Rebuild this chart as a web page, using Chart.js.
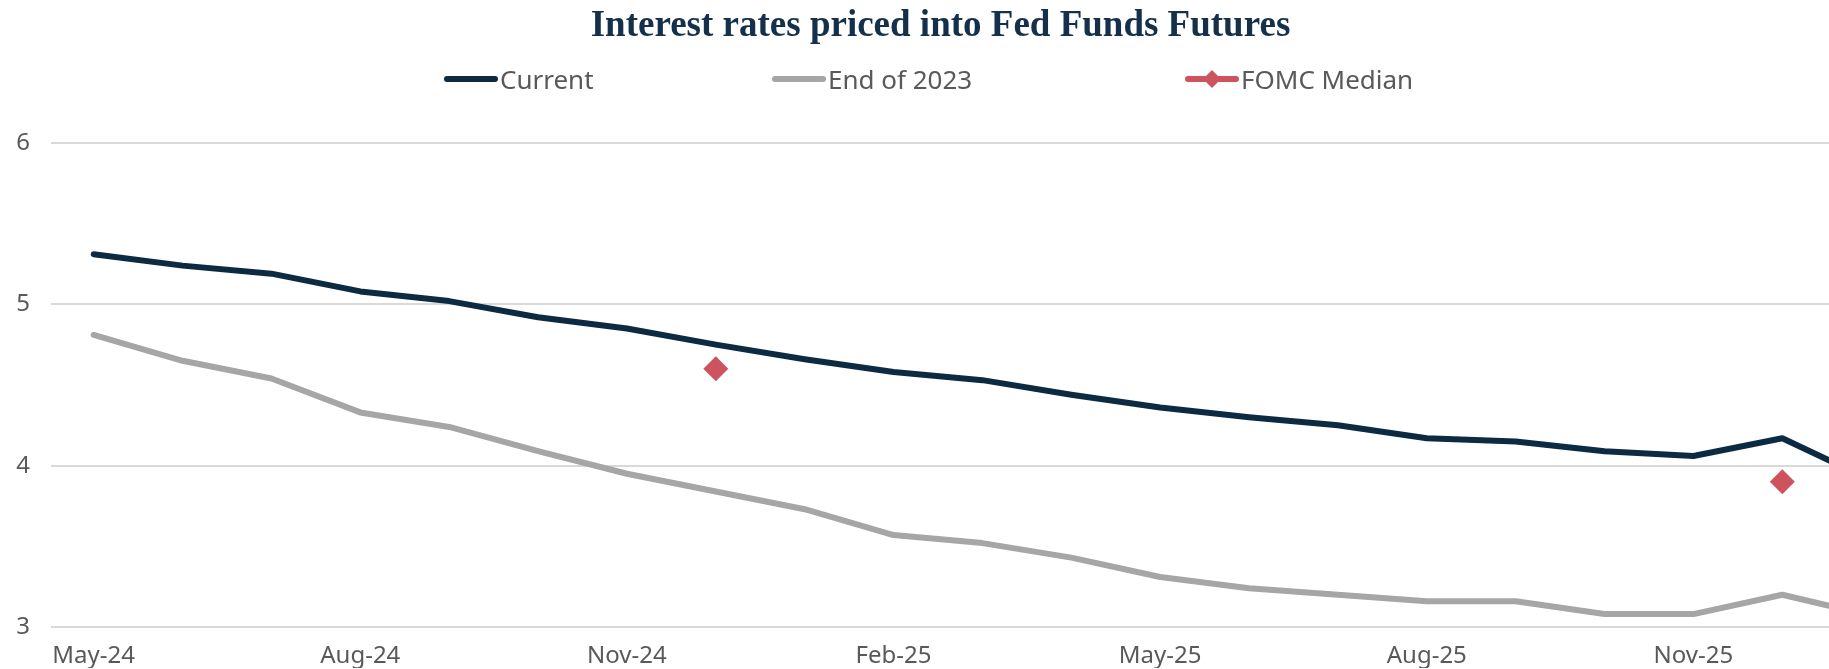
<!DOCTYPE html>
<html>
<head>
<meta charset="utf-8">
<script src="https://cdn.jsdelivr.net/npm/chart.js@4.4.1/dist/chart.umd.min.js"></script>
<style>
  body { margin: 0; background: #fff; }
  #wrap { width: 1829px; height: 669px; overflow: hidden; }
</style>
</head>
<body>
<div id="wrap"><canvas id="myChart" width="1865" height="669"></canvas></div>
<script>
// one label per futures contract month
var months = ['May-24', 'Jun-24', 'Jul-24', 'Aug-24', 'Sep-24', 'Oct-24', 'Nov-24', 'Dec-24',
  'Jan-25', 'Feb-25', 'Mar-25', 'Apr-25', 'May-25', 'Jun-25', 'Jul-25', 'Aug-25', 'Sep-25',
  'Oct-25', 'Nov-25', 'Dec-25', 'Jan-26'];

var current = [5.31, 5.24, 5.19, 5.08, 5.02, 4.92, 4.85, 4.75, 4.66, 4.58, 4.53, 4.44,
  4.36, 4.30, 4.25, 4.17, 4.15, 4.09, 4.06, 4.17, 3.91];

var endOf2023 = [4.81, 4.65, 4.54, 4.33, 4.24, 4.09, 3.95, 3.84, 3.73, 3.57, 3.52, 3.43,
  3.31, 3.24, 3.20, 3.16, 3.16, 3.08, 3.08, 3.20, 3.07];

var fomcMedian = [null, null, null, null, null, null, null, 4.6, null, null, null, null,
  null, null, null, null, null, null, null, 3.9, null];

var yTicks = [3, 4, 5, 6];
var xTickEvery = 3;

function toPoints(arr) {
  return arr.map(function(v, i) { return { x: i, y: v }; });
}

var navy = '#0c2a42';
var grey = '#a6a6a6';
var red = '#cd545e';
var textGrey = '#595959';

// legend drawn in the band under the title
var topLegend = {
  id: 'topLegend',
  afterDraw: function(chart) {
    var ctx = chart.ctx;
    var sets = chart.data.datasets;
    var markW = 54, textGap = 2, y = 79;
    var itemX = [444, 772, 1185];
    ctx.save();
    ctx.font = '26px "Noto Sans"';
    sets.forEach(function(ds, i) {
      var x = itemX[i];
      ctx.strokeStyle = ds.borderColor;
      ctx.lineWidth = 6;
      ctx.lineCap = 'round';
      ctx.beginPath();
      ctx.moveTo(x + 3, y);
      ctx.lineTo(x + markW - 3, y);
      ctx.stroke();
      if (ds.showLine === false) {
        ctx.fillStyle = ds.backgroundColor;
        Chart.helpers.drawPoint(ctx, { pointStyle: 'rectRot', radius: 9, rotation: 0, borderWidth: 0 }, x + markW / 2, y);
      }
      ctx.fillStyle = textGrey;
      ctx.textBaseline = 'alphabetic';
      ctx.textAlign = 'left';
      ctx.fillText(ds.label, x + markW + textGap, y + 10);
    });
    ctx.restore();
  }
};

var ctx = document.getElementById('myChart');
var chart = new Chart(ctx, {
  type: 'line',
  data: {
    datasets: [{
      label: 'Current',
      data: toPoints(current),
      borderColor: navy,
      backgroundColor: navy,
      borderWidth: 6,
      borderCapStyle: 'round',
      borderJoinStyle: 'round',
      pointRadius: 0,
      tension: 0
    }, {
      label: 'End of 2023',
      data: toPoints(endOf2023),
      borderColor: grey,
      backgroundColor: grey,
      borderWidth: 6,
      borderCapStyle: 'round',
      borderJoinStyle: 'round',
      pointRadius: 0,
      tension: 0
    }, {
      label: 'FOMC Median',
      data: toPoints(fomcMedian),
      borderColor: red,
      backgroundColor: red,
      showLine: false,
      pointStyle: 'rectRot',
      pointRadius: 12.5,
      pointBorderWidth: 0
    }]
  },
  options: {
    responsive: false,
    animation: false,
    devicePixelRatio: 1,
    layout: { padding: { left: 16, right: 0, top: 0, bottom: 1 } },
    plugins: {
      legend: { display: false },
      tooltip: { enabled: false },
      title: {
        display: true,
        text: 'Interest rates priced into Fed Funds Futures',
        color: '#14304a',
        font: { family: '"Liberation Serif"', size: 37, weight: 'bold' },
        padding: { top: 4, bottom: 94.6 }
      }
    },
    scales: {
      x: {
        type: 'linear',
        min: -0.48,
        max: 19.79,
        afterFit: function(axis) {
          axis.height = 41;
          axis.paddingLeft = 0;
          axis.paddingRight = 0;
        },
        grid: { display: false },
        border: { display: false },
        ticks: {
          stepSize: xTickEvery,
          includeBounds: false,
          autoSkip: false,
          maxRotation: 0,
          padding: 7,
          color: textGrey,
          font: { family: '"Noto Sans"', size: 24 },
          callback: function(v) { return months[v]; }
        }
      },
      y: {
        min: yTicks[0],
        max: yTicks[yTicks.length - 1],
        afterFit: function(axis) { axis.width = 35; },
        grid: { color: '#d9d9d9', lineWidth: 2, drawTicks: false },
        border: { display: false },
        ticks: {
          stepSize: 1,
          padding: 21,
          color: textGrey,
          font: { family: '"Noto Sans"', size: 24 }
        }
      }
    }
  },
  plugins: [topLegend]
});
</script>
</body>
</html>
